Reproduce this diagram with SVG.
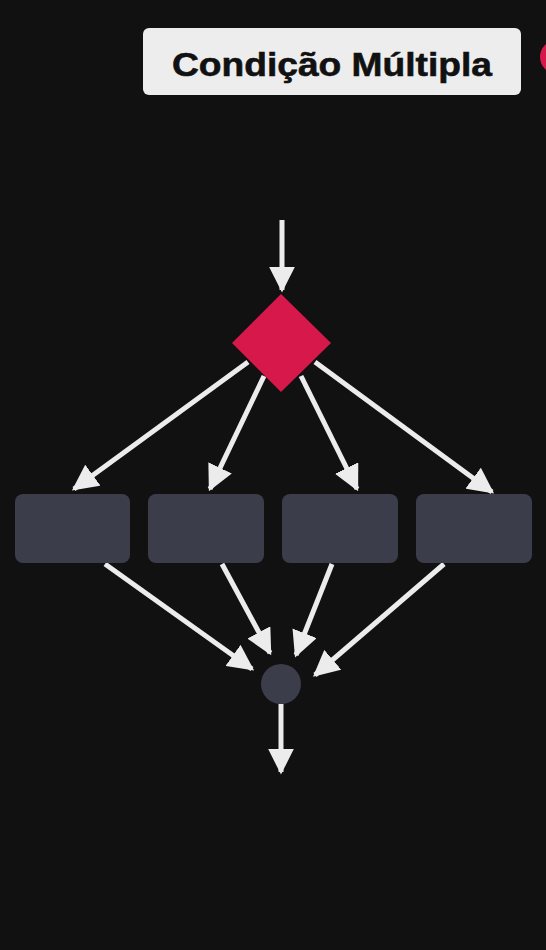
<svg xmlns="http://www.w3.org/2000/svg" width="546" height="950" viewBox="0 0 546 950">
<style>
.conn{stroke:#ececec;stroke-width:5;fill:none;marker-end:url(#ah)}
.box{fill:#3c3d4a}
.title{font-family:"Liberation Sans",Arial,sans-serif;font-weight:bold;font-size:34px;fill:#111}
</style>
<defs>
<marker id="ah" viewBox="0 0 10 10" refX="9" refY="5" markerUnits="userSpaceOnUse" markerWidth="26" markerHeight="26" orient="auto">
<path d="M0,0 L10,5 L0,10 z" fill="#ececec"/>
</marker>
</defs>
<rect x="0" y="0" width="546" height="950" fill="#111111"/>
<g id="title">
<rect x="143" y="28" width="378" height="67" rx="6" fill="#ededed"/>
<text class="title" x="332" y="76" text-anchor="middle" textLength="320" lengthAdjust="spacingAndGlyphs" stroke="#111" stroke-width="0.6">Condição Múltipla</text>
</g>
<circle id="badge" cx="557" cy="57" r="17" fill="#d6184a"/>
<g id="connectors">
<line class="conn" x1="282" y1="220" x2="282" y2="290"/>
<line class="conn" x1="248" y1="362" x2="74" y2="489"/>
<line class="conn" x1="264" y1="376" x2="210" y2="489"/>
<line class="conn" x1="301" y1="376" x2="357" y2="489"/>
<line class="conn" x1="315" y1="362" x2="492" y2="492"/>
<line class="conn" x1="105" y1="564" x2="252" y2="669"/>
<line class="conn" x1="222" y1="564" x2="270" y2="653"/>
<line class="conn" x1="332" y1="564" x2="296" y2="655"/>
<line class="conn" x1="444" y1="564" x2="315" y2="675"/>
<line class="conn" x1="281" y1="704" x2="281" y2="772"/>
</g>
<g id="decision">
<polygon points="281,294 331,343 281,392 232,343" fill="#d6184a"/>
</g>
<g id="box1"><rect class="box" x="15" y="494" width="115" height="69" rx="8"/></g>
<g id="box2"><rect class="box" x="148" y="494" width="116" height="69" rx="8"/></g>
<g id="box3"><rect class="box" x="282" y="494" width="116" height="69" rx="8"/></g>
<g id="box4"><rect class="box" x="416" y="494" width="116" height="69" rx="8"/></g>
<g id="merge"><circle cx="281" cy="684" r="20" fill="#3c3d4a"/></g>
</svg>
